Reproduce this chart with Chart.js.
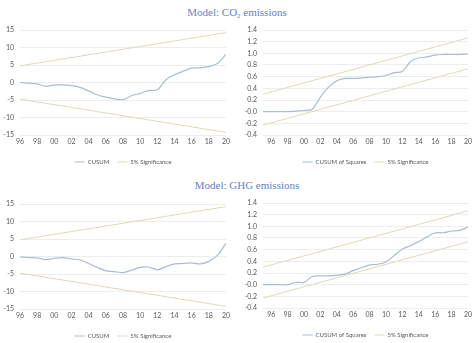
<!DOCTYPE html>
<html><head><meta charset="utf-8">
<script src="https://cdn.jsdelivr.net/npm/chart.js@4/dist/chart.umd.min.js"></script>
<style>
html,body{margin:0;padding:0;background:#fff;}
#wrap{position:relative;width:474px;height:343px;overflow:hidden;background:#fff;}
.title{position:absolute;font-family:"Liberation Serif","DejaVu Serif",serif;font-size:11px;color:#5f84c0;white-space:nowrap;transform:translateX(-50%);line-height:14px;}
.title sub{font-size:7px;vertical-align:-2px;line-height:0;}
.box{position:absolute;width:237px;height:153px;}
</style></head><body>
<div id="wrap">
<div class="title" style="left:237px;top:5px">Model: CO<sub>2</sub> emissions</div>
<div class="title" style="left:247px;top:178px">Model: GHG emissions</div>
<div class="box" style="left:0;top:22px"><canvas id="c1"></canvas></div>
<div class="box" style="left:237px;top:22px"><canvas id="c2"></canvas></div>
<div class="box" style="left:0;top:196px"><canvas id="c3"></canvas></div>
<div class="box" style="left:237px;top:195px"><canvas id="c4"></canvas></div>
</div>
<script>
// ---- data ----
const cusumYears = [1996,1997,1998,1999,2000,2001,2002,2003,2004,2005,2006,2007,2008,2009,2010,2011,2012,2013,2014,2015,2016,2017,2018,2019,2020];
const sqYears = [1995,1996,1997,1998,1999,2000,2001,2002,2003,2004,2005,2006,2007,2008,2009,2010,2011,2012,2013,2014,2015,2016,2017,2018,2019,2020];
const tickYears = [1996,1998,2000,2002,2004,2006,2008,2010,2012,2014,2016,2018,2020];

const co2Cusum = [0,-0.2,-0.4,-1.1,-0.7,-0.7,-0.9,-1.4,-2.4,-3.5,-4.2,-4.7,-4.9,-3.8,-3.1,-2.3,-2.1,0.8,2.2,3.2,4.1,4.2,4.6,5.4,8.1];
const co2CusumSq = [0,0,0,0,0.01,0.02,0.04,0.25,0.42,0.53,0.57,0.57,0.58,0.59,0.6,0.62,0.67,0.69,0.86,0.92,0.94,0.97,0.98,0.98,0.98,0.99];
const ghgCusum = [-0.1,-0.3,-0.4,-0.9,-0.5,-0.3,-0.7,-1.0,-2.0,-3.1,-4.1,-4.3,-4.6,-3.9,-3.1,-3.0,-3.8,-2.9,-2.1,-2.0,-1.8,-2.1,-1.4,0.3,3.8];
const ghgCusumSq = [0,0,0,0,0.04,0.04,0.14,0.15,0.15,0.16,0.18,0.24,0.29,0.34,0.35,0.39,0.5,0.61,0.67,0.74,0.82,0.89,0.89,0.92,0.93,0.99];

// 5% significance bounds: [start, end] (straight lines)
const cusumSigUpper = [4.75, 14.25];
const cusumSigLower = [-4.75, -14.25];
const sqSigUpper = [0.30, 1.265];
const sqSigLower = [-0.23, 0.735];

const lineColor = '#a9bdd2';
const sigColor = '#e0d9b8';
const tickColor = '#595959';

function makeChart(id, years, values, label, sigU, sigL, yMin, yMax, yStep, yDec, yW, padRight) {
  const pts = years.map((y,i)=>({x:y, y:values[i]}));
  const x0 = years[0], x1 = years[years.length-1];
  new Chart(document.getElementById(id), {
    type: 'line',
    data: { datasets: [
      {label: label, data: pts, borderColor: lineColor, backgroundColor: lineColor, borderWidth: 1.2, pointRadius: 0, tension: 0.3},
      {label: '5% Significance', data: [{x:x0,y:sigU[0]},{x:x1,y:sigU[1]}], borderColor: sigColor, backgroundColor: sigColor, borderWidth: 1, pointRadius: 0},
      {label: '', data: [{x:x0,y:sigL[0]},{x:x1,y:sigL[1]}], borderColor: sigColor, backgroundColor: sigColor, borderWidth: 1, pointRadius: 0}
    ]},
    options: {
      responsive: true, maintainAspectRatio: false, animation: false,
      layout: { padding: {top: 8, right: padRight, left: 0, bottom: 0} },
      plugins: {
        tooltip: {enabled:false},
        legend: {
          position: 'bottom', fullSize: false,
          labels: {
            font: {family: 'Lato', size: 6}, color: tickColor, boxWidth: 10, boxHeight: 1, padding: 8,
            generateLabels: chart => chart.data.datasets.map((d,i)=>({text:d.label, fillStyle:d.borderColor, strokeStyle:d.borderColor, lineWidth:0, hidden:false, datasetIndex:i, fontColor: tickColor})).filter(it=>it.text)
          }
        }
      },
      scales: {
        x: {
          type: 'linear', min: x0, max: x1,
          grid: {display: false, drawTicks: false}, border: {display: false},
          afterBuildTicks: s => { s.ticks = tickYears.map(v=>({value:v})); },
          afterFit: s => { s.height = 16; s.paddingLeft = 0; s.paddingRight = 0; },
          ticks: {autoSkip: false, maxRotation: 0, padding: 3, color: tickColor, font: {family:'Lato', size: 7},
            callback: v => String(v % 100).padStart(2,'0')}
        },
        y: {
          min: yMin, max: yMax,
          grid: {color: '#e9e9e9', lineWidth: 0.8, drawTicks: false}, border: {display: false},
          afterFit: s => { s.width = yW; s.paddingTop = 0; s.paddingBottom = 0; },
          ticks: {stepSize: yStep, padding: 6, color: tickColor, font: {family:'Lato', size: 7},
            callback: v => Number(v).toFixed(yDec)}
        }
      }
    }
  });
}

makeChart('c1', cusumYears, co2Cusum, 'CUSUM', cusumSigUpper, cusumSigLower, -15, 15, 5, 0, 20, 11);
makeChart('c2', sqYears, co2CusumSq, 'CUSUM of Squares', sqSigUpper, sqSigLower, -0.4, 1.4, 0.2, 1, 26, 6);
makeChart('c3', cusumYears, ghgCusum, 'CUSUM', cusumSigUpper, cusumSigLower, -15, 15, 5, 0, 20, 11);
makeChart('c4', sqYears, ghgCusumSq, 'CUSUM of Squares', sqSigUpper, sqSigLower, -0.4, 1.4, 0.2, 1, 26, 6);
</script>
</body></html>
